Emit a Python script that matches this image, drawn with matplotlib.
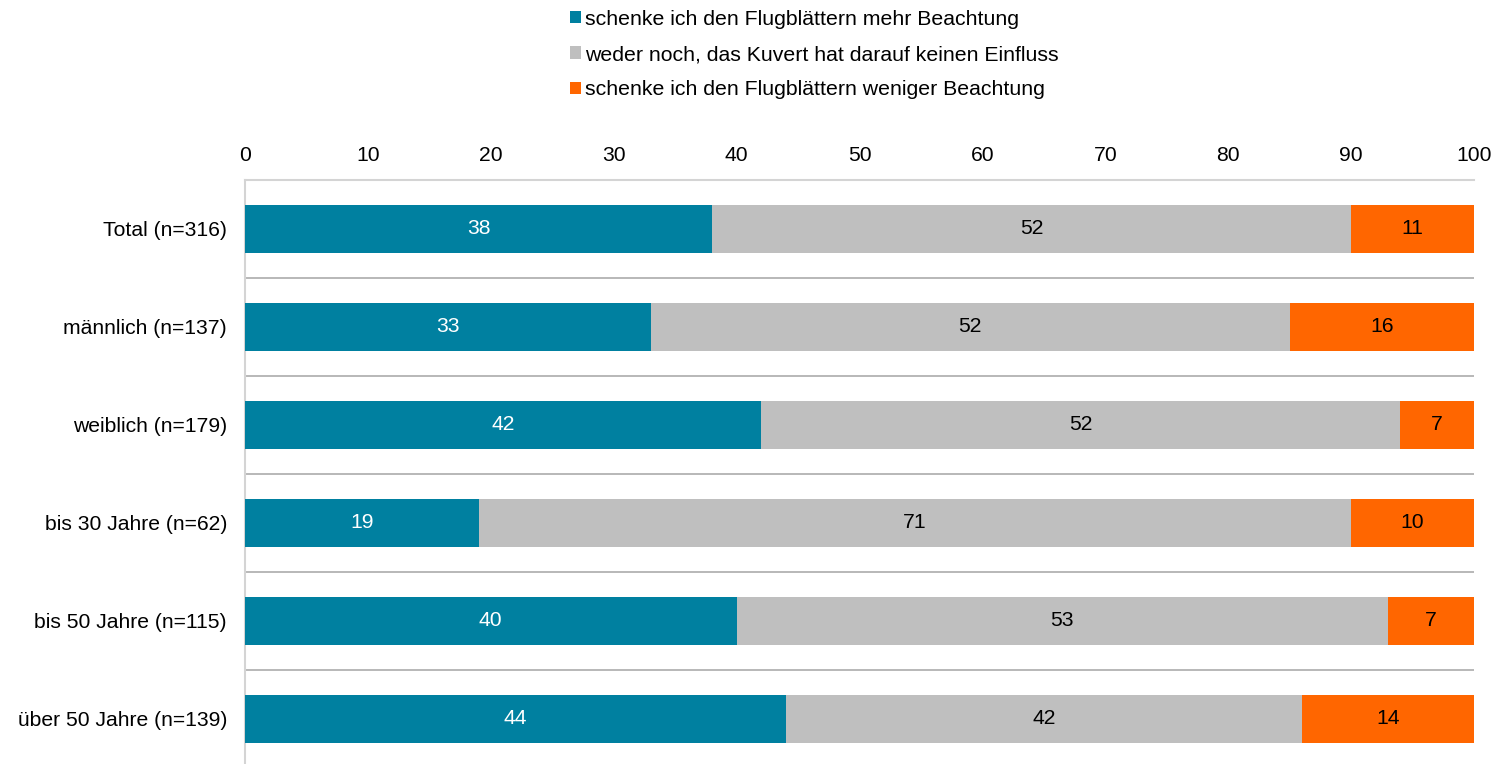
import matplotlib
matplotlib.use("Agg")
import matplotlib.pyplot as plt
from matplotlib.patches import Patch

plt.rcParams['font.family'] = ['Liberation Sans', 'DejaVu Sans']

categories = ["Total (n=316)", "männlich (n=137)", "weiblich (n=179)",
              "bis 30 Jahre (n=62)", "bis 50 Jahre (n=115)", "über 50 Jahre (n=139)"]
mehr = [38, 33, 42, 19, 40, 44]
weder = [52, 52, 52, 71, 53, 42]
weniger = [11, 16, 7, 10, 7, 14]
series_names = ["schenke ich den Flugblättern mehr Beachtung",
                "weder noch, das Kuvert hat darauf keinen Einfluss",
                "schenke ich den Flugblättern weniger Beachtung"]
colors = ["#0080A0", "#BFBFBF", "#FF6600"]
text_colors = ["white", "black", "black"]
xticks = [0, 10, 20, 30, 40, 50, 60, 70, 80, 90, 100]

FS = 15.2
W, H = 1501, 764
fig = plt.figure(figsize=(W / 100, H / 100), dpi=100)
ax = fig.add_axes([245 / W, -4 / H, (1474 - 245) / W, (768 - 180) / H])

y = list(range(len(categories)))
left = [0] * len(categories)
for vals, col, tcol in zip([mehr, weder, weniger], colors, text_colors):
    ax.barh(y, vals, left=left, height=0.49, color=col, zorder=3)
    for yi, l, v in zip(y, left, vals):
        cx = l + v / 2
        if l + v > 100:
            cx = l + (100 - l) / 2
        ax.text(cx, yi, f"{v}", ha="center", va="center", color=tcol,
                fontsize=FS, zorder=4)
    left = [a + b for a, b in zip(left, vals)]

ax.set_xlim(0, 100)
ax.set_ylim(len(categories) - 0.5, -0.5)
ax.set_yticks(y)
ax.set_yticklabels(categories, fontsize=FS)
ax.set_xticks(xticks)
ax.set_xticklabels([str(t) for t in xticks], fontsize=FS)
ax.xaxis.tick_top()
ax.tick_params(axis="x", length=0, pad=11)
ax.tick_params(axis="y", length=0, pad=13)

for b in [i + 0.5 for i in range(len(categories) - 1)]:
    ax.axhline(b, color="#ABABAB", lw=1.2, zorder=1)

for s in ["right", "bottom"]:
    ax.spines[s].set_visible(False)
ax.spines["top"].set_color("#D4D4D4")
ax.spines["top"].set_linewidth(1.5)
ax.spines["left"].set_color("#D4D4D4")
ax.spines["left"].set_linewidth(1.5)

handles = [Patch(facecolor=c, edgecolor="none") for c in colors]
fig.legend(handles, series_names, loc="upper left",
           bbox_to_anchor=(555 / W, 1 + 5 / H), frameon=False, fontsize=15.3,
           handlelength=0.5, handleheight=0.5, handletextpad=0.2,
           labelspacing=0.76, borderpad=0.2)

fig.savefig("out.png", dpi=100)
